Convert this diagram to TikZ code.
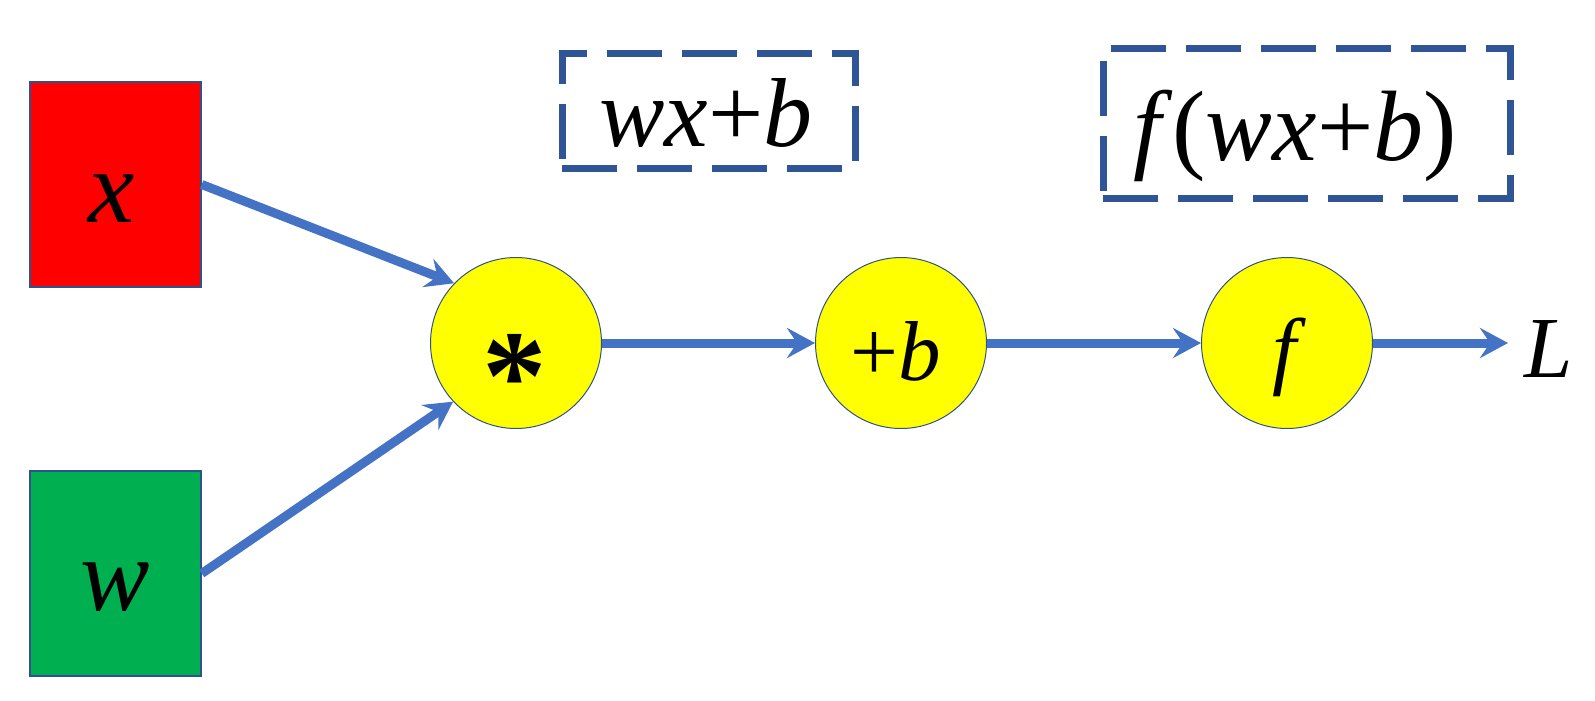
\documentclass[tikz,border=0pt]{standalone}
\usepackage{fontspec}
\setmainfont{Liberation Serif}[ItalicFont={Liberation Serif Italic},BoldFont={Liberation Serif Bold},BoldItalicFont={Liberation Serif Bold Italic}]
\usetikzlibrary{arrows.meta}
\definecolor{boxred}{HTML}{FF0000}
\definecolor{boxgreen}{HTML}{00B050}
\definecolor{edgeblue}{HTML}{2F528F}
\definecolor{arrowblue}{HTML}{4472C4}
\definecolor{dashblue}{HTML}{2F5597}
\definecolor{nodeyellow}{HTML}{FFFF00}
\begin{document}
\begin{tikzpicture}[x=1pt,y=-1pt,
  inbox/.style={draw=edgeblue,line width=1.5pt,minimum width=171pt,minimum height=205pt,inner sep=0pt},
  opnode/.style={circle,draw=edgeblue,line width=1pt,fill=nodeyellow,minimum size=171pt,inner sep=0pt},
  dashbox/.style={draw=dashblue,line width=7pt,dash pattern=on 55pt off 20pt,inner sep=0pt},
  lab/.style={inner sep=0pt,anchor=base},
  flow/.style={draw=arrowblue,line width=9pt,-{Stealth[length=28pt,width=30pt,inset=10pt]}},
]
\useasboundingbox (0,0) rectangle (1595,701);
% input boxes
\node[inbox,fill=boxred] (xb) at (115.5,184.5) {};
\node[inbox,fill=boxgreen] (wb) at (115.5,573.5) {};
\node[lab,font=\fontsize{104}{110}\selectfont\itshape] (xl) at (112,222) {x};
\node[lab,font=\fontsize{104}{110}\selectfont\itshape] (wl) at (115,610) {w};
% operation nodes
\node[opnode] (star) at (516,343) {};
\node[opnode] (pb) at (901,343) {};
\node[opnode] (fc) at (1287,343) {};
\node[lab,font=\fontsize{129}{130}\selectfont\bfseries] (sl) at (515,419) {*};
\node[lab,font=\fontsize{85}{90}\selectfont] (pbl) at (896,380) {+\textit{b}};
\node[lab,font=\fontsize{86}{90}\selectfont\itshape] (fl) at (1284,378) {f};
% output label
\node[inner xsep=16pt,inner ysep=0pt,anchor=base west,font=\fontsize{87}{90}\selectfont\itshape] (L) at (1508,377) {L};
% dashed boxes
\node[dashbox,minimum width=293pt,minimum height=114pt] (d1) at (708.5,111) {};
\node[dashbox,minimum width=407pt,minimum height=149pt] (d2) at (1306.5,123.5) {};
\node[lab,font=\fontsize{98}{100}\selectfont] (d1l) at (706,146) {\textit{wx}+\textit{b}};
\node[lab,font=\fontsize{100}{100}\selectfont] (d2l) at (1295,160) {\textit{f}(\textit{wx}+\textit{b})};
% connectors
\draw[flow] (xb.east) -- (star.136);
\draw[flow] (wb.east) -- (star.223);
\draw[flow] (star.east) -- (pb.west);
\draw[flow] (pb.east) -- (fc.west);
\draw[flow] (fc.east) -- (fc.east -| L.west);
\end{tikzpicture}
\end{document}
